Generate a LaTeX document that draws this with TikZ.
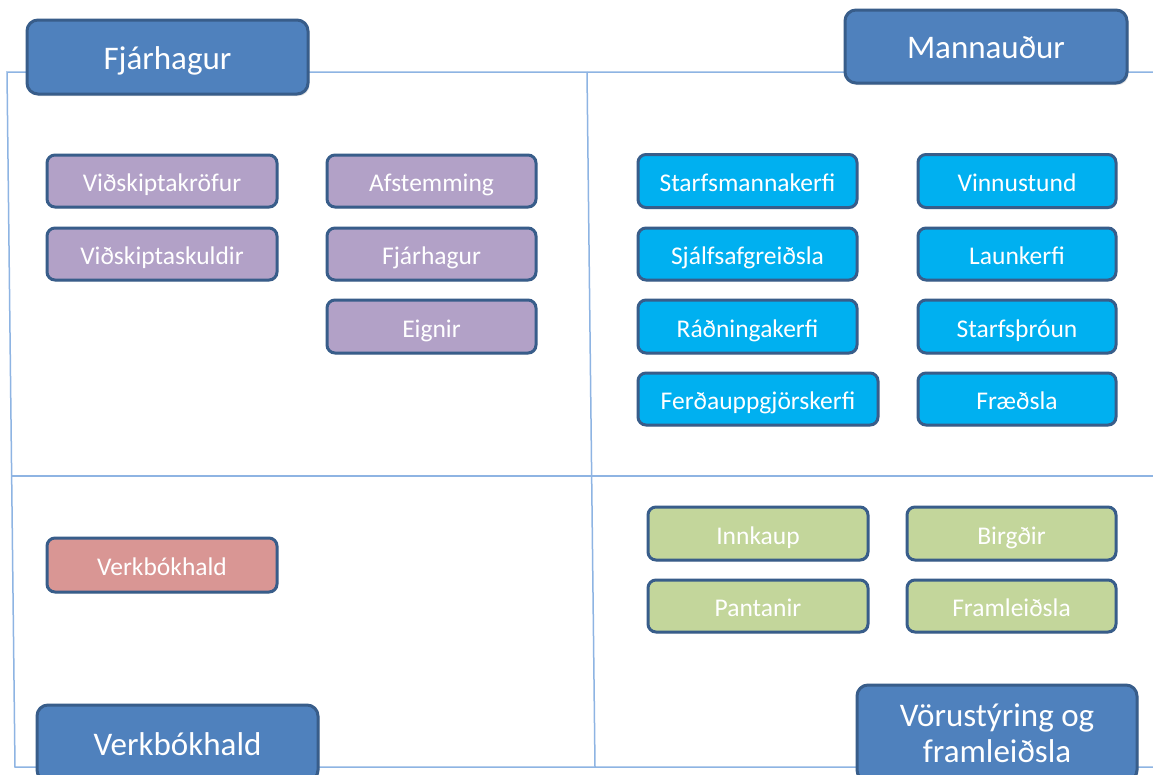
\documentclass[tikz,border=0pt]{standalone}
\usepackage{fontspec}
\setmainfont{Carlito}
\usetikzlibrary{shadows}
\definecolor{titlefill}{HTML}{4F81BD}
\definecolor{titledraw}{HTML}{385D8A}
\definecolor{purplefill}{HTML}{B2A1C7}
\definecolor{cyanfill}{HTML}{00B0F0}
\definecolor{greenfill}{HTML}{C3D69B}
\definecolor{pinkfill}{HTML}{D99694}
\definecolor{framecol}{HTML}{8EB4E3}
\tikzset{
  x=1pt,y=-1pt,
  frameline/.style={draw=framecol,line width=1.5pt},
  titlebox/.style={draw=titledraw,fill=titlefill,line width=3pt,rounded corners=11pt,
    text=white,font=\fontsize{33}{36}\selectfont,align=center,inner sep=0pt,
    drop shadow={shadow xshift=1.5pt,shadow yshift=-2pt,opacity=0.25}},
  onetitle/.style={titlebox,text height=27pt,text depth=3pt},
  smallbox/.style={draw=titledraw,line width=3pt,rounded corners=8pt,
    text=white,font=\fontsize{25.5}{30}\selectfont,inner sep=0pt,
    text height=24pt,text depth=3pt,
    drop shadow={shadow xshift=1pt,shadow yshift=-1.5pt,opacity=0.2}},
  purp/.style={smallbox,fill=purplefill},
  cyan/.style={smallbox,fill=cyanfill},
  grn/.style={smallbox,fill=greenfill},
  pnk/.style={smallbox,fill=pinkfill},
}
\begin{document}
\begin{tikzpicture}
\useasboundingbox[fill=white] (0,0) rectangle (1153,774);
% frame
\coordinate (tl) at (7,72);
\coordinate (tr) at (1153,72);
\coordinate (bl) at (15,767);
\coordinate (br) at (1153,767);
\coordinate (ml) at (12,476);
\coordinate (mr) at (1153,476);
\coordinate (vt) at (587,72);
\coordinate (vb) at (595,767);
\draw[frameline] (tr) -- (tl) -- (bl) -- (br);
\draw[frameline] (ml) -- (mr);
\draw[frameline] (vt) -- (vb);
% title boxes
\node[onetitle,minimum width=281pt,minimum height=74pt] (tfj) at (167.5,57) {Fjárhagur};
\node[onetitle,minimum width=282pt,minimum height=73pt] (tma) at (986,46.5) {Mannauður};
\node[onetitle,minimum width=281pt,minimum height=76pt] (tve) at (177.5,743) {Verkbókhald};
\node[titlebox,minimum width=280pt,minimum height=96pt] (tvo) at (997,733) {Vörustýring og\\framleiðsla};
% Fjárhagur
\node[purp,minimum width=230pt,minimum height=52pt] (vk) at (162,181) {Viðskiptakröfur};
\node[purp,minimum width=230pt,minimum height=52pt] (vs) at (162,254) {Viðskiptaskuldir};
\node[purp,minimum width=209pt,minimum height=52pt] (af) at (431.5,181) {Afstemming};
\node[purp,minimum width=209pt,minimum height=52pt] (fj) at (431.5,254) {Fjárhagur};
\node[purp,minimum width=209pt,minimum height=53pt] (ei) at (431.5,326.5) {Eignir};
% Mannauður
\node[cyan,minimum width=219pt,minimum height=53pt] (sm) at (747.5,181) {Starfsmannakerfi};
\node[cyan,minimum width=198pt,minimum height=53pt] (vi) at (1017,181) {Vinnustund};
\node[cyan,minimum width=219pt,minimum height=52pt] (sj) at (747.5,254) {Sjálfsafgreiðsla};
\node[cyan,minimum width=198pt,minimum height=52pt] (la) at (1017,254) {Launkerfi};
\node[cyan,minimum width=219pt,minimum height=53pt] (ra) at (747.5,326.5) {Ráðningakerfi};
\node[cyan,minimum width=198pt,minimum height=53pt] (sp) at (1017,326.5) {Starfsþróun};
\node[cyan,minimum width=240pt,minimum height=52pt] (fe) at (758,399) {Ferðauppgjörskerfi};
\node[cyan,minimum width=198pt,minimum height=52pt] (fr) at (1017,399) {Fræðsla};
% Vörustýring
\node[grn,minimum width=220pt,minimum height=53pt] (in) at (758,533.5) {Innkaup};
\node[grn,minimum width=209pt,minimum height=53pt] (bi) at (1011.5,533.5) {Birgðir};
\node[grn,minimum width=220pt,minimum height=52pt] (pa) at (758,606) {Pantanir};
\node[grn,minimum width=209pt,minimum height=52pt] (fl) at (1011.5,606) {Framleiðsla};
% Verkbókhald
\node[pnk,minimum width=230pt,minimum height=54pt] (vb1) at (162,565) {Verkbókhald};
\end{tikzpicture}
\end{document}
